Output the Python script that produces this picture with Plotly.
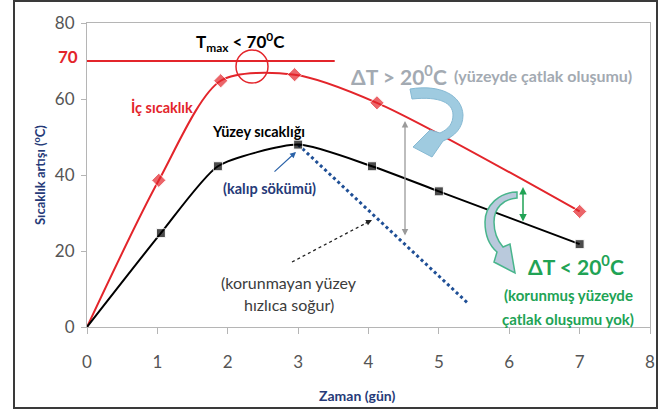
import plotly.graph_objects as go

# --- veriler ---
zaman_ic = [0, 1.02, 1.9, 2.95, 4.12, 7.0]
sicaklik_ic = [0, 38.6, 64.8, 66.4, 59.0, 30.4]

zaman_yuzey = [0, 1.05, 1.86, 3.0, 4.05, 5.0, 7.0]
sicaklik_yuzey = [0, 24.7, 42.3, 48.0, 42.3, 35.7, 21.8]

zaman_korunmayan = [3.0, 5.41]
sicaklik_korunmayan = [48.0, 6.3]

tmax_x = [0, 3.52]
tmax_y = [70, 70]

x_ticks = [0, 1, 2, 3, 4, 5, 6, 7, 8]
y_ticks = [0, 20, 40, 60, 80]

KIRMIZI = "#e3252b"
YESIL = "#21a355"
GRI = "#a3aab2"
LACIVERT = "#263a78"
FONT = "Lato"

# piksel -> veri dönüşümü (çizim alanı 87..650 x, 23..327 y)
def px(p):
    return (p - 87) / 70.375

def py(p):
    return (327 - p) / 3.8

def yol(noktalar):
    s = ""
    for n in noktalar:
        cmd = n[0]
        vals = n[1:]
        parca = []
        for i in range(0, len(vals), 2):
            parca.append("%.4f,%.4f" % (px(vals[i]), py(vals[i + 1])))
        s += cmd + " " + " ".join(parca) + " "
    return s + "Z"

fig = go.Figure()

fig.add_trace(go.Scatter(x=tmax_x, y=tmax_y, mode="lines",
                         line=dict(color=KIRMIZI, width=2), hoverinfo="skip"))

fig.add_trace(go.Scatter(x=zaman_korunmayan, y=sicaklik_korunmayan, mode="lines",
                         line=dict(color="#1f4f96", width=3, dash="dot"), hoverinfo="skip"))

fig.add_trace(go.Scatter(x=zaman_ic, y=sicaklik_ic, mode="lines+markers",
                         line=dict(color=KIRMIZI, width=2, shape="spline", smoothing=0.8),
                         marker=dict(symbol="diamond", color=KIRMIZI,
                                     size=[0] + [11] * (len(zaman_ic) - 1))))

fig.add_trace(go.Scatter(x=zaman_yuzey, y=sicaklik_yuzey, mode="lines+markers",
                         line=dict(color="black", width=2, shape="spline", smoothing=0.6),
                         marker=dict(symbol="square", color="black",
                                     size=[0] + [9] * (len(zaman_yuzey) - 1))))

# kıvrık oklar
ust_ok = yol([("M", 410, 89), ("C", 440, 84, 462, 95, 463, 115),
              ("C", 463, 128, 455, 136, 443, 141), ("L", 432, 157), ("L", 413, 147),
              ("L", 430, 130), ("L", 440, 133), ("C", 449, 129, 453, 123, 453, 115),
              ("C", 453, 103, 440, 96, 412, 99)])
alt_ok = yol([("M", 517, 192), ("C", 500, 192, 485, 205, 485, 222),
              ("C", 485, 236, 490, 246, 497, 252), ("L", 494, 262), ("L", 515, 273),
              ("L", 510, 244), ("L", 503, 247), ("C", 497, 240, 494, 230, 494, 222),
              ("C", 494, 208, 503, 199, 517, 198)])

shapes = [
    dict(type="path", path=ust_ok, xref="x", yref="y", fillcolor="#9fcbe0",
         line=dict(color="#86b9d3", width=1), layer="above"),
    dict(type="path", path=alt_ok, xref="x", yref="y", fillcolor="#b9c9dc",
         line=dict(color="#48b58c", width=1.5), layer="above"),
    dict(type="circle", xref="x", yref="y", x0=px(236), x1=px(268), y0=py(83), y1=py(50),
         line=dict(color=KIRMIZI, width=1.5)),
    dict(type="line", xref="x", yref="y", x0=px(292), y0=py(262), x1=px(370), y1=py(221),
         line=dict(color="#222", width=1.3, dash="dot")),
    # dış çerçeve
    dict(type="rect", xref="paper", yref="paper",
         x0=(14 - 87) / 563.0, x1=(657 - 87) / 563.0,
         y0=(327 - 408) / 304.0, y1=(327 - 1) / 304.0,
         line=dict(color="#3a3a3a", width=2)),
]

def yazi(x, y, t, renk, boyut, **kw):
    return dict(x=px(x), y=py(y), xref="x", yref="y", text=t, showarrow=False,
                xanchor="center", yanchor="middle",
                font=dict(family=FONT, color=renk, size=boyut), **kw)

def yazi_kagit(x, y, t, renk, boyut, **kw):
    return dict(x=(x - 87) / 563.0, y=(327 - y) / 304.0, xref="paper", yref="paper",
                text=t, showarrow=False, xanchor="center", yanchor="middle",
                font=dict(family=FONT, color=renk, size=boyut), **kw)

annotations = [
    yazi(240, 42, "<b>T<sub>max</sub> < 70<sup>0</sup>C</b>", "black", 17),
    yazi(162, 107, "<b>İç sıcaklık</b>", KIRMIZI, 14.5),
    yazi(258, 131, "<b>Yüzey sıcaklığı</b>", "black", 14.5),
    yazi(269, 188, "<b>(kalıp sökümü)</b>", LACIVERT, 14.5),
    yazi(399, 75, "<b>ΔT > 20<sup>0</sup>C</b>", GRI, 21),
    yazi(543, 75, "<b>(yüzeyde çatlak oluşumu)</b>", GRI, 16),
    yazi(576, 265, "<b>ΔT < 20<sup>0</sup>C</b>", YESIL, 21),
    yazi(568, 295, "<b>(korunmuş yüzeyde</b>", YESIL, 15),
    yazi(568, 319, "<b>çatlak oluşumu yok)</b>", YESIL, 15),
    yazi(289, 282, "(korunmayan yüzey", "#3c3c3c", 16),
    yazi(289, 304, "hızlıca soğur)", "#3c3c3c", 16),
    yazi_kagit(68, 57, "<b>70</b>", KIRMIZI, 17),
    yazi_kagit(357, 395, "<b>Zaman (gün)</b>", LACIVERT, 14),
    yazi_kagit(39, 175, "<b>Sıcaklık artışı (<sup>o</sup>C)</b>", LACIVERT, 13, textangle=-90),
    # oklar
    dict(x=px(296), y=py(152), ax=px(273), ay=py(173), xref="x", yref="y", axref="x", ayref="y",
         text="", showarrow=True, arrowhead=2, arrowsize=1, arrowwidth=1.2, arrowcolor="#2a62a8"),
    dict(x=px(372), y=py(220), ax=px(364), ay=py(224), xref="x", yref="y", axref="x", ayref="y",
         text="", showarrow=True, arrowhead=2, arrowsize=1, arrowwidth=1.2, arrowcolor="#222"),
    dict(x=px(405), y=py(121), ax=px(405), ay=py(237), xref="x", yref="y", axref="x", ayref="y",
         text="", showarrow=True, arrowhead=2, startarrowhead=2, arrowside="end+start",
         arrowsize=1, arrowwidth=1.3, arrowcolor="#9a9a9a"),
    dict(x=px(523), y=py(187), ax=px(523), ay=py(223), xref="x", yref="y", axref="x", ayref="y",
         text="", showarrow=True, arrowhead=2, startarrowhead=2, arrowside="end+start",
         arrowsize=1, arrowwidth=1.5, arrowcolor=YESIL),
]

fig.update_layout(
    width=658, height=411,
    margin=dict(l=87, r=8, t=23, b=84),
    paper_bgcolor="white", plot_bgcolor="white",
    showlegend=False,
    shapes=shapes,
    annotations=annotations,
    font=dict(family=FONT),
    xaxis=dict(range=[0, 8], tickvals=x_ticks, showgrid=False, zeroline=False,
               showline=True, linecolor="#b5b5b5", linewidth=1.2, mirror=True,
               ticks="outside", ticklen=6, tickcolor="#b5b5b5", automargin=False,
               tickfont=dict(family=FONT, size=17, color="#555555"),
               ticklabelstandoff=13),
    yaxis=dict(range=[0, 80], tickvals=y_ticks, showgrid=False, zeroline=False,
               showline=True, linecolor="#b5b5b5", linewidth=1.2, mirror=True,
               ticks="outside", ticklen=5, tickcolor="#b5b5b5", automargin=False,
               tickfont=dict(family=FONT, size=17, color="#555555"),
               ticklabelstandoff=3),
)

fig.write_html("out.html", config={"displayModeBar": False},
               post_script="document.body.style.margin='0';")
